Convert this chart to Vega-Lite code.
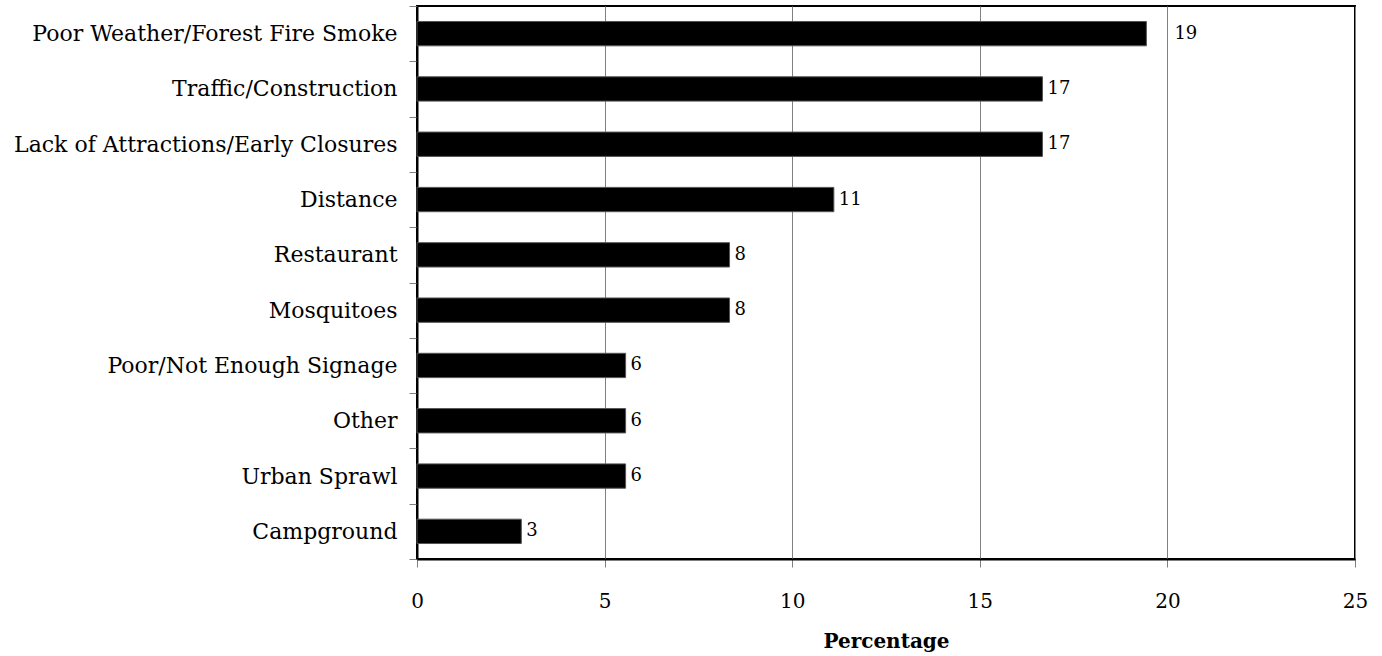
{
  "$schema": "https://vega.github.io/schema/vega-lite/v6.json",
  "autosize": "none",
  "width": 938,
  "height": 553,
  "padding": {"left": 417, "top": 6, "right": 27, "bottom": 97},
  "background": "white",
  "config": {
    "view": {"stroke": "black", "strokeWidth": 2},
    "font": "DejaVu Serif"
  },
  "data": {
    "values": [
      {"reason": "Poor Weather/Forest Fire Smoke", "pct": 19.44},
      {"reason": "Traffic/Construction", "pct": 16.67},
      {"reason": "Lack of Attractions/Early Closures", "pct": 16.67},
      {"reason": "Distance", "pct": 11.11},
      {"reason": "Restaurant", "pct": 8.33},
      {"reason": "Mosquitoes", "pct": 8.33},
      {"reason": "Poor/Not Enough Signage", "pct": 5.56},
      {"reason": "Other", "pct": 5.56},
      {"reason": "Urban Sprawl", "pct": 5.56},
      {"reason": "Campground", "pct": 2.78}
    ]
  },
  "encoding": {
    "y": {
      "field": "reason",
      "type": "nominal",
      "sort": null,
      "scale": {"paddingInner": 0, "paddingOuter": 0},
      "axis": {
        "title": null,
        "tickBand": "extent",
        "domainColor": "black",
        "domainWidth": 2,
        "tickColor": "#808080",
        "tickSize": 8,
        "labelFont": "DejaVu Serif",
        "labelFontSize": 22,
        "labelColor": "black",
        "labelPadding": 12,
        "labelLimit": 500
      }
    },
    "x": {
      "field": "pct",
      "type": "quantitative",
      "scale": {"domain": [0, 25], "nice": false},
      "axis": {
        "title": "Percentage",
        "titleFont": "DejaVu Serif",
        "titleFontSize": 20,
        "titleFontWeight": "bold",
        "titleColor": "black",
        "titlePadding": 20,
        "values": [0, 5, 10, 15, 20, 25],
        "grid": true,
        "gridColor": "#808080",
        "gridWidth": 1,
        "domainColor": "black",
        "domainWidth": 2,
        "tickColor": "#808080",
        "tickSize": 8,
        "labelFlush": false,
        "labelFont": "DejaVu Serif",
        "labelFontSize": 20,
        "labelColor": "black",
        "labelPadding": 24
      }
    }
  },
  "layer": [
    {"mark": {"type": "bar", "color": "black", "stroke": "#555555", "strokeWidth": 1, "height": {"band": 0.44}}},
    {
      "transform": [{"filter": "datum.pct < 19"}],
      "mark": {"type": "text", "align": "left", "baseline": "middle", "dx": 5, "font": "DejaVu Serif", "fontSize": 18, "color": "black"},
      "encoding": {"text": {"field": "pct", "type": "quantitative", "format": ".0f"}}
    },
    {
      "transform": [{"filter": "datum.pct >= 19"}],
      "mark": {"type": "text", "align": "left", "baseline": "middle", "dx": 28, "font": "DejaVu Serif", "fontSize": 18, "color": "black"},
      "encoding": {"text": {"field": "pct", "type": "quantitative", "format": ".0f"}}
    }
  ]
}
